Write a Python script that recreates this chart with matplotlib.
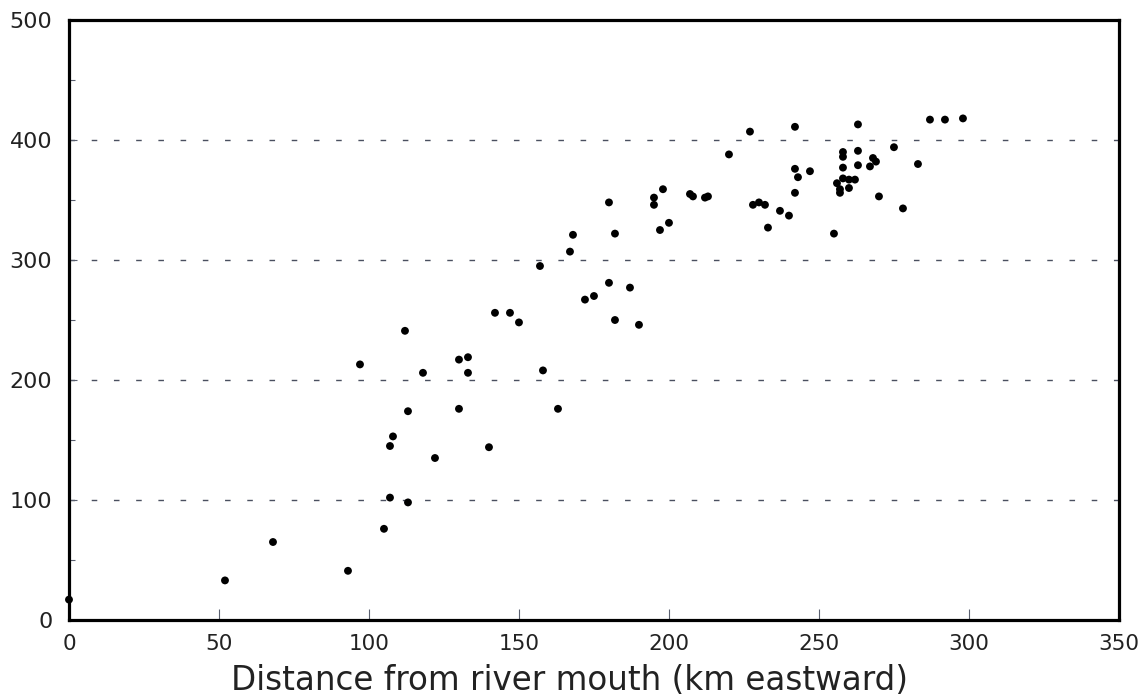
import matplotlib
matplotlib.use('Agg')
import matplotlib.pyplot as plt
from matplotlib.ticker import MultipleLocator

# distance from river mouth (km) and measured value at each site
distance_km = [0, 52, 68, 93, 105, 107, 113, 107, 108, 97,
               112, 113, 118, 122, 130, 133, 133, 130, 140, 142,
               147, 150, 157, 158, 163, 167, 168, 172, 175, 180,
               180, 182, 182, 187, 190, 195, 195, 198, 197, 200,
               207, 208, 212, 213, 220, 227, 228, 230, 232, 233,
               237, 240, 242, 242, 242, 243, 247, 255, 256, 257,
               257, 258, 258, 258, 258, 260, 260, 262, 263, 263,
               263, 267, 268, 269, 270, 275, 278, 283, 287, 292,
               298]
value = [17, 33, 65, 41, 76, 102, 98, 145, 153, 213,
         241, 174, 206, 135, 217, 219, 206, 176, 144, 256,
         256, 248, 295, 208, 176, 307, 321, 267, 270, 281,
         348, 322, 250, 277, 246, 352, 346, 359, 325, 331,
         355, 353, 352, 353, 388, 407, 346, 348, 346, 327,
         341, 337, 411, 376, 356, 369, 374, 322, 364, 359,
         356, 368, 377, 390, 386, 367, 360, 367, 413, 391,
         379, 378, 385, 382, 353, 394, 343, 380, 417, 417,
         418]

xticks = [0, 50, 100, 150, 200, 250, 300, 350]
yticks = [0, 100, 200, 300, 400, 500]

plt.rcParams['font.family'] = ['DejaVu Sans']
plt.rcParams['lines.scale_dashes'] = False

fig = plt.figure(figsize=(11.46, 6.95), dpi=100)
ax = fig.add_axes([0.0602, 0.1079, 0.9162, 0.8633])

ax.set_xlim(0, 350)
ax.set_ylim(0, 500)

# dashed reference lines at the 100s
for yv in yticks[1:-1]:
    ax.axhline(yv, color='#4a5060', lw=1.0, ls=(0, (4, 12)), zorder=1)

ax.scatter(distance_km, value, s=32, color='black', edgecolors='none',
           zorder=3, clip_on=False)

for sp in ax.spines.values():
    sp.set_linewidth(2.3)
    sp.set_color('black')

ax.set_xticks(xticks)
ax.set_yticks(yticks)
ax.yaxis.set_minor_locator(MultipleLocator(50))
ax.tick_params(axis='both', which='major', direction='in', length=8,
               width=0.8, color='#5a6070', labelsize=15.5, labelcolor='#222222')
ax.tick_params(axis='x', which='major', pad=10)
ax.tick_params(axis='y', which='major', length=6, pad=12, labelsize=16)
ax.tick_params(axis='y', which='minor', direction='in', length=4,
               width=0.8, color='#5a6070')

ax.set_xlabel('Distance from river mouth (km eastward)', fontsize=23.5,
              color='#222222', va='center')
ax.xaxis.set_label_coords(0.477, -0.100)

fig.savefig('out.png', dpi=100)
